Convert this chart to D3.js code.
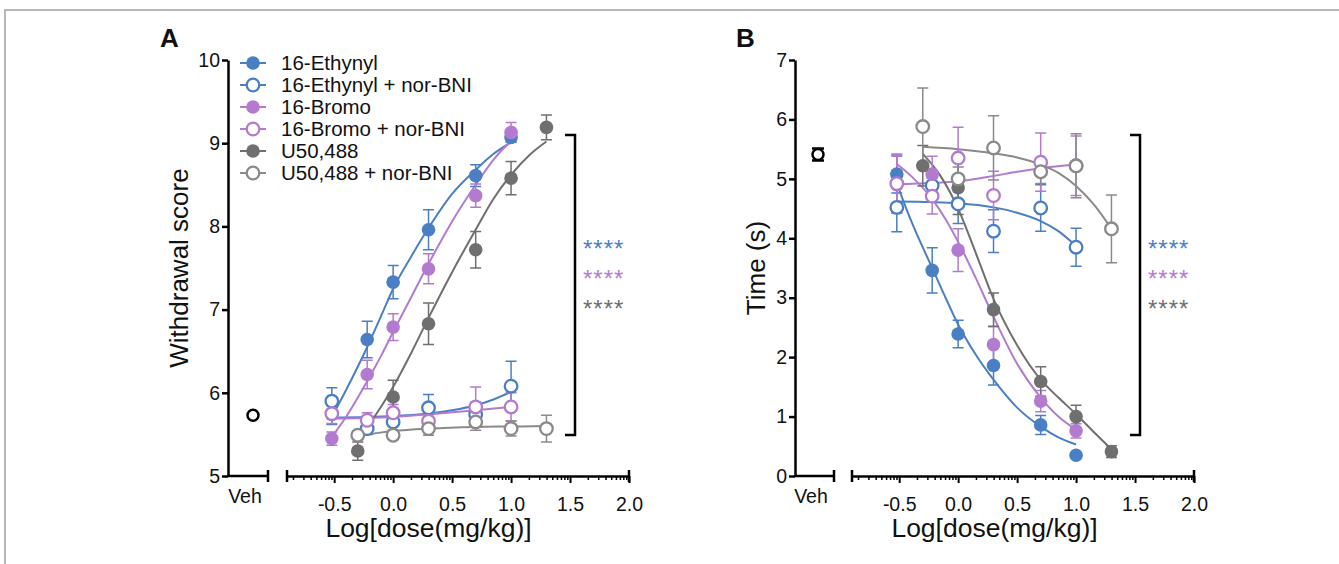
<!DOCTYPE html>
<meta charset="utf-8">
<body style="margin:0;background:#fff">
</body>
<script src="https://d3js.org/d3.v7.min.js"></script>
<script>

// ---- data ----
var legendNames = ["16-Ethynyl", "16-Ethynyl + nor-BNI", "16-Bromo", "16-Bromo + nor-BNI", "U50,488", "U50,488 + nor-BNI"];
var colors = ["#4a7fc4", "#4a7fc4", "#b27bcf", "#b27bcf", "#6f6f6f", "#8a8a8a"];
var filled = [true, false, true, false, true, false];

var doseEB = [-0.52, -0.22, 0, 0.3, 0.7, 1.0];   // log dose, 16-Ethynyl / 16-Bromo
var doseU50 = [-0.3, 0, 0.3, 0.7, 1.0, 1.3];    // log dose, U50,488

// panel A: withdrawal score (mean, sem)
var aEth = [5.74, 6.64, 7.33, 7.96, 8.61, 9.07];
var aEthErr = [0.12, 0.22, 0.2, 0.24, 0.13, 0.06];
var aEthNor = [5.9, 5.57, 5.65, 5.82, 5.74, 6.08];
var aEthNorErr = [0.16, 0.07, 0.1, 0.16, 0.15, 0.3];
var aBro = [5.45, 6.22, 6.79, 7.49, 8.37, 9.13];
var aBroErr = [0.08, 0.17, 0.16, 0.18, 0.14, 0.12];
var aBroNor = [5.75, 5.67, 5.76, 5.66, 5.83, 5.83];
var aBroNorErr = [0.12, 0.09, 0.1, 0.08, 0.24, 0.17];
var aU50 = [5.30, 5.95, 6.83, 7.72, 8.58, 9.19];
var aU50Err = [0.11, 0.2, 0.25, 0.22, 0.2, 0.15];
var aU50Nor = [5.49, 5.49, 5.57, 5.65, 5.57, 5.57];
var aU50NorErr = [0.05, 0.05, 0.08, 0.1, 0.09, 0.16];
var aVeh = 5.73;

// panel B: time (s)
var bEth = [5.08, 3.46, 2.39, 1.86, 0.86, 0.35];
var bEthErr = [0.32, 0.38, 0.23, 0.33, 0.16, 0.0];
var bEthNor = [4.52, 4.89, 4.58, 4.12, 4.51, 3.85];
var bEthNorErr = [0.41, 0.12, 0.33, 0.36, 0.39, 0.32];
var bBro = [4.90, 5.08, 3.80, 2.21, 1.26, 0.76];
var bBroErr = [0.48, 0.3, 0.36, 0.3, 0.18, 0.12];
var bBroNor = [4.92, 4.71, 5.35, 4.72, 5.28, 5.22];
var bBroNorErr = [0.5, 0.3, 0.52, 0.41, 0.49, 0.5];
var bU50 = [5.22, 4.85, 2.80, 1.59, 1.0, 0.41];
var bU50Err = [0.34, 0.45, 0.28, 0.25, 0.19, 0.1];
var bU50Nor = [5.88, 5.0, 5.52, 5.12, 5.22, 4.16];
var bU50NorErr = [0.65, 0.2, 0.54, 0.2, 0.54, 0.57];
var bVeh = 5.41, bVehErr = 0.1;

// fitted curves, points
var aEthFit = [[-0.52,5.71],[-0.4,6.03],[-0.22,6.55],[-0.1,6.93],[0,7.25],[0.15,7.63],[0.3,7.98],[0.5,8.39],[0.7,8.68],[0.85,8.87],[1.0,9.01]];
var aEthNorFit = [[-0.52,5.70],[0,5.72],[0.3,5.75],[0.5,5.79],[0.7,5.85],[0.85,5.92],[1.0,6.01]];
var aBroFit = [[-0.52,5.47],[-0.4,5.71],[-0.22,6.14],[-0.1,6.45],[0,6.73],[0.15,7.14],[0.3,7.55],[0.5,8.06],[0.7,8.5],[0.85,8.8],[1.0,9.03]];
var aBroNorFit = [[-0.52,5.69],[0,5.71],[0.3,5.74],[0.7,5.79],[1.0,5.83]];
var aU50Fit = [[-0.3,5.43],[-0.15,5.73],[0,6.07],[0.15,6.47],[0.3,6.9],[0.5,7.45],[0.7,7.96],[0.85,8.33],[1.0,8.62],[1.15,8.85],[1.3,9.02]];
var aU50NorFit = [[-0.3,5.48],[0,5.54],[0.3,5.57],[0.7,5.59],[1.0,5.595],[1.3,5.6]];

var bEthFit = [[-0.52,4.92],[-0.4,4.3],[-0.22,3.5],[-0.1,2.97],[0,2.55],[0.15,2.04],[0.3,1.62],[0.5,1.15],[0.7,0.83],[0.85,0.65],[1.0,0.53]];
var bEthNorFit = [[-0.52,4.62],[-0.22,4.61],[0,4.59],[0.3,4.52],[0.5,4.43],[0.7,4.29],[0.85,4.12],[1.0,3.87]];
var bBroFit = [[-0.52,5.25],[-0.4,5.05],[-0.22,4.66],[-0.1,4.3],[0,3.94],[0.15,3.33],[0.3,2.68],[0.5,1.89],[0.7,1.32],[0.85,1.0],[1.0,0.78]];
var bBroNorFit = [[-0.52,4.91],[-0.22,4.93],[0,4.96],[0.3,5.05],[0.5,5.12],[0.7,5.18],[1.0,5.24]];
var bU50Fit = [[-0.3,5.42],[-0.15,5.05],[0,4.5],[0.15,3.75],[0.3,2.98],[0.5,2.2],[0.7,1.62],[0.85,1.32],[1.0,1.04],[1.15,0.74],[1.3,0.45]];
var bU50NorFit = [[-0.3,5.54],[0,5.5],[0.3,5.43],[0.5,5.36],[0.7,5.24],[0.85,5.1],[1.0,4.88],[1.15,4.57],[1.3,4.16]];

var xTicks = [-0.5, 0.0, 0.5, 1.0, 1.5, 2.0];
var minorOffsets = [0.151, 0.239, 0.301, 0.349, 0.389, 0.423, 0.452, 0.477];
var aYTicks = [5, 6, 7, 8, 9, 10];
var bYTicks = [0, 1, 2, 3, 4, 5, 6, 7];
var stars = "****";

// ---- drawing ----
var font = "'Liberation Sans', Arial, Helvetica, sans-serif";
var tickFont = 19.5;
var svg = d3.select("body").append("svg")
  .attr("width", 1339)
  .attr("height", 564)
  .style("font-family", font);

svg.append("path")
  .attr("d", "M5,564V10H1339")
  .attr("fill", "none")
  .attr("stroke", "#a0a0a0")
  .attr("stroke-width", 1.5);

var minorTicks = [];
[-1.0, -0.5, 0, 0.5, 1.0, 1.5].forEach(function(a) {
  minorOffsets.forEach(function(o) {
    if (a + o > -0.9 && a + o < 2.0) minorTicks.push(a + o);
  });
});

function marker(sel, i) {
  return sel
    .attr("r", filled[i] ? 6.8 : 6.3)
    .attr("fill", filled[i] ? colors[i] : "#fff")
    .attr("stroke", colors[i])
    .attr("stroke-width", filled[i] ? 0 : 2.3);
}

function drawPanel(p) {
  var x = d3.scaleLinear().domain([-0.9, 2.0]).range(p.xRange);
  var y = d3.scaleLinear().domain(p.yDomain).range([476, 60]);
  var base = 476;

  // y axis
  var gy = svg.append("g")
    .attr("transform", "translate(" + p.axisX + ",0)")
    .call(d3.axisLeft(y).tickValues(p.yTicks).tickSize(6).tickSizeOuter(0).tickPadding(2).tickFormat(d3.format("d")));
  gy.select(".domain").attr("stroke-width", 2.5);
  gy.selectAll(".tick line").attr("stroke-width", 2.5);
  gy.selectAll("text").attr("font-size", tickFont).attr("font-family", font).attr("fill", "#111");

  // vehicle stub axis
  svg.append("path")
    .attr("d", "M" + p.axisX + "," + base + "H" + p.vehEnd + "M" + p.vehEnd + "," + (base - 6) + "V" + (base + 6))
    .attr("stroke", "#000").attr("stroke-width", 2.5).attr("fill", "none");
  svg.append("text")
    .attr("x", p.vehLabelX).attr("y", 503)
    .attr("text-anchor", "middle").attr("font-size", tickFont).attr("fill", "#111")
    .text("Veh");

  // x axis
  var gx = svg.append("g")
    .attr("transform", "translate(0," + base + ")")
    .call(d3.axisBottom(x).tickValues(xTicks).tickSize(7).tickSizeOuter(0)
      .tickFormat(function(d) { return d.toFixed(1); }));
  gx.select(".domain").attr("stroke-width", 2.5);
  gx.selectAll(".tick line").attr("stroke-width", 2);
  gx.selectAll("text").attr("font-size", tickFont).attr("font-family", font).attr("fill", "#111")
    .attr("dy", null).attr("y", 35);

  var gm = svg.append("g")
    .attr("transform", "translate(0," + base + ")")
    .call(d3.axisBottom(x).tickValues(minorTicks).tickSize(4).tickFormat(""));
  gm.select(".domain").remove();
  gm.selectAll(".tick line").attr("stroke-width", 1.5);

  svg.append("path")
    .attr("d", "M" + x(-0.9) + "," + (base - 6) + "V" + (base + 6) + "M" + x(2.0) + "," + (base - 6) + "V" + (base + 6))
    .attr("stroke", "#000").attr("stroke-width", 2.5);

  // axis titles
  svg.append("text")
    .attr("transform", "translate(" + p.yLabelX + ",268) rotate(-90)")
    .attr("text-anchor", "middle").attr("font-size", 26).attr("fill", "#111")
    .text(p.yLabel);
  svg.append("text")
    .attr("x", (p.axisX + x(2.0)) / 2).attr("y", 537)
    .attr("text-anchor", "middle").attr("font-size", 26.5).attr("fill", "#111")
    .text("Log[dose(mg/kg)]");
  svg.append("text")
    .attr("x", p.letterX).attr("y", 47)
    .attr("font-size", 26).attr("font-weight", "bold").attr("fill", "#111")
    .text(p.letter);

  // curves
  var line = d3.line()
    .x(function(d) { return x(d[0]); })
    .y(function(d) { return y(d[1]); })
    .curve(d3.curveMonotoneX);
  p.fits.forEach(function(f, i) {
    svg.append("path")
      .attr("d", line(f))
      .attr("fill", "none")
      .attr("stroke", colors[i])
      .attr("stroke-width", 2);
  });

  // error bars then markers
  p.series.forEach(function(s, i) {
    var g = svg.append("g").attr("stroke", colors[i]).attr("stroke-width", 1.5);
    s.x.forEach(function(d, j) {
      if (!(s.e[j] > 0)) return;
      var cx = x(d), top = y(s.v[j] + s.e[j]), bot = y(s.v[j] - s.e[j]);
      g.append("path")
        .attr("d", "M" + cx + "," + bot + "V" + top +
          "M" + (cx - 5.5) + "," + top + "H" + (cx + 5.5) +
          "M" + (cx - 5.5) + "," + bot + "H" + (cx + 5.5))
        .attr("fill", "none");
    });
  });
  p.series.forEach(function(s, i) {
    svg.append("g")
      .selectAll("circle")
      .data(s.x.map(function(d, j) { return [d, s.v[j]]; }))
      .enter()
      .append("circle")
      .attr("cx", function(d) { return x(d[0]); })
      .attr("cy", function(d) { return y(d[1]); })
      .call(marker, i);
  });

  // vehicle point
  if (p.vehErr) {
    svg.append("path")
      .attr("d", "M" + p.vehX + "," + y(p.veh - p.vehErr) + "V" + y(p.veh + p.vehErr) +
        "M" + (p.vehX - 6) + "," + y(p.veh + p.vehErr) + "H" + (p.vehX + 6) +
        "M" + (p.vehX - 6) + "," + y(p.veh - p.vehErr) + "H" + (p.vehX + 6))
      .attr("stroke", "#000").attr("stroke-width", 2.5).attr("fill", "none");
  }
  svg.append("circle")
    .attr("cx", p.vehX).attr("cy", y(p.veh)).attr("r", 5.5)
    .attr("fill", "#fff").attr("stroke", "#000").attr("stroke-width", 2.5);

  // significance bracket
  svg.append("path")
    .attr("d", "M" + (p.bracketX - 10) + ",135H" + p.bracketX + "V435H" + (p.bracketX - 10))
    .attr("fill", "none").attr("stroke", "#000").attr("stroke-width", 2.5);
  [0, 2, 4].forEach(function(ci, k) {
    svg.append("text")
      .attr("x", p.bracketX + 8).attr("y", 243 + k * 30 + 14)
      .attr("font-size", 24).attr("letter-spacing", 1).attr("fill", colors[ci])
      .text(stars);
  });
}

// legend (panel A)
function drawLegend() {
  legendNames.forEach(function(name, i) {
    var ly = 63 + i * 22;
    svg.append("line")
      .attr("x1", 240).attr("x2", 266).attr("y1", ly).attr("y2", ly)
      .attr("stroke", colors[i]).attr("stroke-width", 2);
    svg.append("circle")
      .attr("cx", 253).attr("cy", ly)
      .call(marker, i);
    svg.append("text")
      .attr("x", 281).attr("y", ly).attr("dy", "0.36em")
      .attr("font-size", 20.5).attr("fill", "#111")
      .text(name);
  });
}

drawPanel({
  letter: "A", letterX: 160,
  axisX: 228, xRange: [287, 629], vehEnd: 268, vehLabelX: 245, vehX: 253,
  yDomain: [5, 10], yTicks: aYTicks, yLabel: "Withdrawal score", yLabelX: 188,
  veh: aVeh,
  bracketX: 575,
  fits: [aEthFit, aEthNorFit, aBroFit, aBroNorFit, aU50Fit, aU50NorFit],
  series: [
    {x: doseEB, v: aEth, e: aEthErr},
    {x: doseEB, v: aEthNor, e: aEthNorErr},
    {x: doseEB, v: aBro, e: aBroErr},
    {x: doseEB, v: aBroNor, e: aBroNorErr},
    {x: doseU50, v: aU50, e: aU50Err},
    {x: doseU50, v: aU50Nor, e: aU50NorErr}
  ]
});
drawLegend();

drawPanel({
  letter: "B", letterX: 736,
  axisX: 795, xRange: [852, 1194], vehEnd: 834, vehLabelX: 811, vehX: 818,
  yDomain: [0, 7], yTicks: bYTicks, yLabel: "Time (s)", yLabelX: 765,
  veh: bVeh, vehErr: bVehErr,
  bracketX: 1140,
  fits: [bEthFit, bEthNorFit, bBroFit, bBroNorFit, bU50Fit, bU50NorFit],
  series: [
    {x: doseEB, v: bEth, e: bEthErr},
    {x: doseEB, v: bEthNor, e: bEthNorErr},
    {x: doseEB, v: bBro, e: bBroErr},
    {x: doseEB, v: bBroNor, e: bBroNorErr},
    {x: doseU50, v: bU50, e: bU50Err},
    {x: doseU50, v: bU50Nor, e: bU50NorErr}
  ]
});

</script>
